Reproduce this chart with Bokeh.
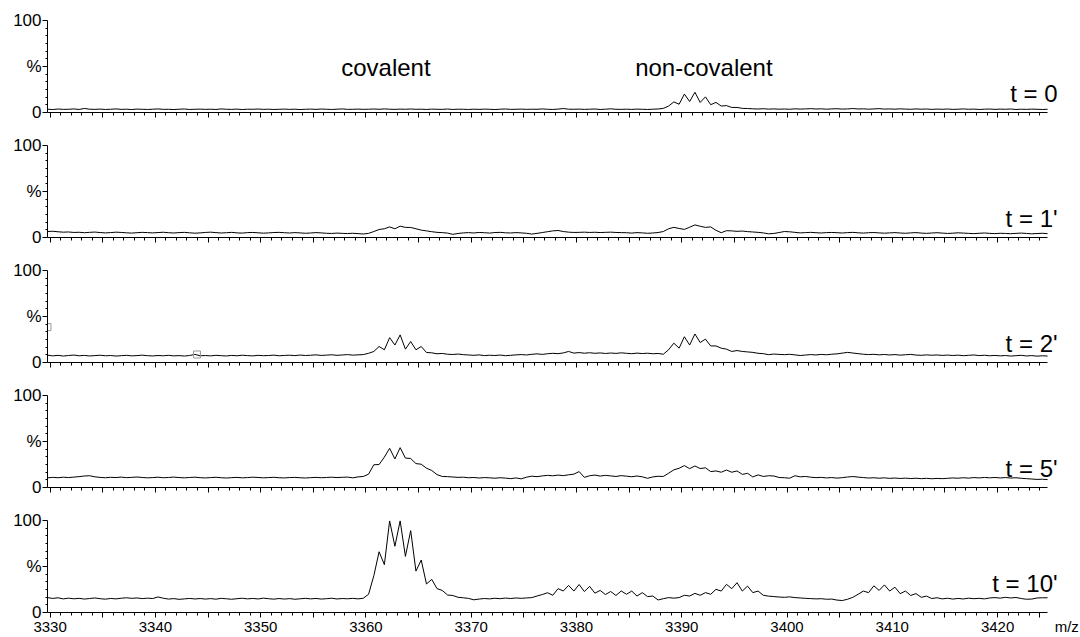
from bokeh.plotting import figure
from bokeh.layouts import column
from bokeh.models import Range1d, FixedTicker, Label
from bokeh.embed import file_html
from bokeh.resources import INLINE

# m/z sampling positions (Da)
mz = [
    3329.75, 3330.25, 3330.75, 3331.25, 3331.75, 3332.25, 3332.75, 3333.25, 3333.75, 3334.25,
    3334.75, 3335.25, 3335.75, 3336.25, 3336.75, 3337.25, 3337.75, 3338.25, 3338.75, 3339.25,
    3339.75, 3340.25, 3340.75, 3341.25, 3341.75, 3342.25, 3342.75, 3343.25, 3343.75, 3344.25,
    3344.75, 3345.25, 3345.75, 3346.25, 3346.75, 3347.25, 3347.75, 3348.25, 3348.75, 3349.25,
    3349.75, 3350.25, 3350.75, 3351.25, 3351.75, 3352.25, 3352.75, 3353.25, 3353.75, 3354.25,
    3354.75, 3355.25, 3355.75, 3356.25, 3356.75, 3357.25, 3357.75, 3358.25, 3358.75, 3359.25,
    3359.75, 3360.25, 3360.75, 3361.25, 3361.75, 3362.25, 3362.75, 3363.25, 3363.75, 3364.25,
    3364.75, 3365.25, 3365.75, 3366.25, 3366.75, 3367.25, 3367.75, 3368.25, 3368.75, 3369.25,
    3369.75, 3370.25, 3370.75, 3371.25, 3371.75, 3372.25, 3372.75, 3373.25, 3373.75, 3374.25,
    3374.75, 3375.25, 3375.75, 3376.25, 3376.75, 3377.25, 3377.75, 3378.25, 3378.75, 3379.25,
    3379.75, 3380.25, 3380.75, 3381.25, 3381.75, 3382.25, 3382.75, 3383.25, 3383.75, 3384.25,
    3384.75, 3385.25, 3385.75, 3386.25, 3386.75, 3387.25, 3387.75, 3388.25, 3388.75, 3389.25,
    3389.75, 3390.25, 3390.75, 3391.25, 3391.75, 3392.25, 3392.75, 3393.25, 3393.75, 3394.25,
    3394.75, 3395.25, 3395.75, 3396.25, 3396.75, 3397.25, 3397.75, 3398.25, 3398.75, 3399.25,
    3399.75, 3400.25, 3400.75, 3401.25, 3401.75, 3402.25, 3402.75, 3403.25, 3403.75, 3404.25,
    3404.75, 3405.25, 3405.75, 3406.25, 3406.75, 3407.25, 3407.75, 3408.25, 3408.75, 3409.25,
    3409.75, 3410.25, 3410.75, 3411.25, 3411.75, 3412.25, 3412.75, 3413.25, 3413.75, 3414.25,
    3414.75, 3415.25, 3415.75, 3416.25, 3416.75, 3417.25, 3417.75, 3418.25, 3418.75, 3419.25,
    3419.75, 3420.25, 3420.75, 3421.25, 3421.75, 3422.25, 3422.75, 3423.25, 3423.75, 3424.25,
    3424.75,
]

# relative intensity (%) for each time point
int_t0 = [
    3.6, 3.2, 3.8, 3.4, 3.5, 3.9, 3.3, 4.4, 3.6, 3.4,
    3.7, 3.3, 3.5, 3.9, 3.4, 3.6, 3.2, 3.7, 3.5, 3.3,
    3.6, 3.9, 3.4, 3.5, 3.2, 3.6, 3.8, 3.3, 3.5, 3.7,
    3.4, 3.6, 3.3, 3.9, 3.5, 3.4, 3.7, 3.2, 3.6, 3.5,
    3.8, 3.4, 3.6, 3.3, 3.5, 3.7, 3.4, 3.6, 3.2, 3.5,
    3.7, 3.4, 3.8, 3.5, 3.3, 3.6, 3.9, 3.4, 3.5, 3.7,
    3.4, 3.6, 3.8, 3.5, 3.9, 3.6, 3.4, 3.7, 3.5, 3.8,
    3.5, 3.6, 3.3, 3.7, 3.5, 3.4, 3.8, 3.3, 3.6, 3.5,
    3.3, 3.6, 3.4, 3.7, 3.5, 3.2, 3.6, 3.8, 3.4, 3.5,
    3.7, 3.4, 3.6, 3.5, 3.9, 3.5, 3.3, 3.7, 4.3, 3.6,
    3.5, 3.7, 3.4, 3.6, 3.8, 3.3, 3.6, 4.0, 3.5, 3.4,
    3.6, 3.4, 3.7, 3.5, 3.3, 3.6, 3.8, 4.5, 7.0, 11.5,
    9.0, 20.0, 12.0, 22.0, 11.0, 17.0, 8.5, 11.0, 7.0, 7.5,
    5.5, 5.5, 4.5, 4.3, 4.0, 3.8, 4.1, 3.7, 3.9, 3.6,
    3.8, 3.5, 4.0, 3.7, 3.9, 4.2, 3.8, 4.0, 3.6, 3.9,
    4.1, 3.7, 3.9, 4.3, 3.8, 4.0, 3.6, 3.9, 4.2, 3.7,
    3.9, 3.6, 4.0, 3.7, 3.5, 3.9, 3.6, 3.8, 3.4, 3.7,
    3.5, 3.8, 3.4, 3.6, 3.9, 3.5, 3.7, 3.3, 3.6, 3.8,
    3.4, 3.7, 3.5, 3.8, 3.3, 3.6, 3.4, 3.7, 3.5, 3.3,
    3.5,
]

int_t1 = [
    6.5, 6.8, 6.2, 5.8, 6.0, 5.5, 5.7, 5.2, 5.6, 5.9,
    5.4, 5.0, 5.3, 5.8, 5.5, 5.1, 4.8, 5.2, 5.6, 5.3,
    5.0, 5.4, 5.7, 5.2, 4.9, 5.3, 5.6, 5.1, 4.7, 5.0,
    5.5, 5.8, 5.3, 4.9, 5.2, 5.6, 5.0, 4.8, 5.3, 5.5,
    5.1, 4.7, 5.0, 5.4, 5.6, 5.2, 4.9, 5.3, 5.0, 4.6,
    4.9, 5.3, 5.0, 4.6, 4.4, 4.8, 4.5, 4.3, 4.6, 4.2,
    3.8, 4.5, 6.5, 8.7, 9.5, 11.5, 9.5, 12.3, 11.0, 10.9,
    9.5, 8.0, 7.2, 6.3, 5.6, 5.3, 4.8, 3.4, 4.4, 5.0,
    5.3, 4.9, 5.5, 5.2, 4.8, 5.4, 5.6, 5.1, 4.9, 5.3,
    5.0, 4.6, 3.7, 4.5, 5.4, 6.3, 7.2, 7.6, 6.5, 5.8,
    5.5, 5.6, 5.8, 5.5, 5.7, 5.4, 5.6, 5.8, 5.5, 5.3,
    5.2, 4.8, 5.3, 5.0, 4.6, 4.9, 5.4, 6.5, 9.5, 11.0,
    9.8, 8.8, 11.2, 13.7, 12.2, 11.0, 11.5, 7.8, 5.2, 7.4,
    7.2, 6.7, 7.0, 6.4, 6.0, 5.6, 5.0, 4.0, 4.4, 5.4,
    6.5, 6.2, 5.6, 5.0, 5.3, 5.6, 5.2, 4.9, 5.3, 5.5,
    5.2, 4.9, 5.3, 5.6, 5.1, 4.8, 5.2, 5.4, 5.0, 4.7,
    5.0, 5.3, 4.9, 4.6, 5.0, 5.3, 4.8, 4.5, 4.9, 5.2,
    4.8, 4.4, 4.7, 5.1, 4.8, 4.5, 4.2, 4.6, 4.9, 4.5,
    4.2, 4.6, 4.4, 4.1, 4.5, 4.8, 4.4, 4.0, 4.3, 4.6,
    4.2,
]

int_t2 = [
    8.0, 7.2, 7.8, 7.0, 7.6, 8.1, 7.3, 7.7, 7.1, 7.5,
    7.9, 7.3, 7.6, 7.0, 7.4, 7.8, 7.2, 7.5, 8.0, 7.4,
    7.1, 7.6, 7.3, 7.8, 7.2, 7.5, 7.0, 7.6, 8.8, 7.3,
    7.6, 7.2, 7.8, 7.4, 7.1, 7.7, 7.3, 7.9, 7.5, 7.2,
    7.8, 7.4, 7.6, 8.0, 7.3, 7.7, 7.9, 7.5, 8.1, 7.6,
    7.9, 8.3, 7.7, 8.0, 8.4, 7.8, 8.2, 8.6, 8.0, 8.3,
    8.6, 10.0, 12.0, 17.4, 13.8, 27.0, 19.0, 30.0, 14.5, 22.8,
    13.8, 17.4, 10.9, 10.5, 9.5, 9.8, 9.0, 8.7, 9.2, 8.5,
    8.2, 7.8, 8.3, 7.5, 7.9, 7.6, 8.1, 7.4, 7.8, 8.3,
    8.6, 8.2, 8.9, 9.4, 8.8, 9.5, 10.0, 9.6, 10.4, 12.0,
    10.2, 10.8, 10.1, 10.6, 10.0, 10.4, 9.8, 10.3, 9.9, 10.5,
    10.0, 9.6, 10.2, 9.7, 10.1, 9.5, 9.8, 9.0, 13.8, 21.0,
    15.6, 28.0, 19.0, 31.0, 21.7, 25.4, 18.0, 18.0, 15.6, 14.5,
    12.0, 13.0, 12.0, 11.5, 11.0, 10.0, 9.6, 8.5, 9.2, 8.8,
    8.5, 8.9, 8.3, 7.6, 8.1, 8.6, 8.2, 8.8, 8.4, 9.0,
    9.4, 10.2, 11.0, 10.3, 9.6, 9.0, 8.6, 8.9, 8.3, 8.7,
    8.2, 8.6, 8.0, 8.4, 8.8, 8.1, 7.8, 8.3, 7.9, 8.2,
    7.7, 8.1, 7.6, 8.0, 7.4, 7.8, 8.2, 7.5, 7.9, 7.3,
    7.7, 7.2, 7.6, 7.0, 7.4, 7.8, 7.1, 7.5, 6.9, 7.3,
    7.0,
]

int_t5 = [
    10.5, 11.0, 10.6, 11.2, 10.8, 11.3, 11.8, 12.5, 12.8, 11.6,
    11.0, 10.6, 11.1, 10.8, 11.3, 10.7, 11.0, 11.4, 10.9, 10.5,
    10.8, 11.2, 10.6, 10.9, 11.3, 10.8, 10.5, 10.9, 11.2, 10.7,
    10.4, 10.8, 11.1, 10.6, 10.3, 10.7, 11.0, 10.5, 10.8, 11.2,
    10.9, 10.5, 10.8, 11.1, 10.6, 10.4, 10.8, 11.0, 10.6, 10.3,
    10.7, 11.0, 10.6, 10.9, 11.2, 10.8, 11.1, 11.3, 10.5, 11.5,
    12.0, 14.5, 24.7, 25.0, 33.0, 42.6, 31.0, 43.3, 32.0, 31.5,
    26.0, 25.3, 21.0, 18.5, 14.0, 12.0, 11.8, 11.4, 11.0, 11.2,
    10.6, 10.9, 10.3, 10.8, 10.5, 10.1, 10.6, 10.2, 9.6, 10.4,
    9.4, 11.2, 12.3, 11.8, 12.6, 13.2, 12.7, 13.5, 12.9, 13.8,
    14.5, 17.3, 11.0, 12.8, 13.5, 12.4, 13.2, 12.6, 12.0, 12.9,
    12.3, 11.7, 12.5, 11.6, 10.0, 11.5, 12.2, 12.0, 15.5, 19.2,
    20.9, 23.8, 20.5, 23.4, 20.6, 21.4, 17.3, 18.0, 16.6, 19.0,
    16.6, 18.0, 14.3, 15.4, 11.5, 13.7, 12.0, 12.8, 12.5, 10.9,
    10.6, 10.1, 12.8, 11.6, 12.0, 11.2, 10.7, 11.0, 10.4, 10.8,
    10.2, 10.7, 11.4, 11.9, 11.3, 10.8, 10.3, 10.6, 10.1, 10.5,
    9.9, 10.3, 9.8, 10.2, 9.7, 10.1, 9.6, 10.0, 9.5, 9.9,
    9.6, 10.0, 10.4, 10.1, 10.6, 10.2, 10.8, 10.4, 10.9, 10.5,
    10.9, 10.4, 10.8, 10.3, 10.6, 10.0, 9.6, 9.2, 8.8, 9.0,
    8.6,
]

int_t10 = [
    16.2, 15.3, 16.0, 14.8, 15.6, 14.9, 15.4, 14.6, 15.2, 15.8,
    15.0, 14.5, 15.3, 14.8, 15.5, 16.0, 15.4, 15.8, 15.1, 15.6,
    15.2, 16.9, 15.5, 14.6, 15.1, 14.3, 14.8, 15.3, 14.7, 15.2,
    14.6, 15.1, 14.5, 15.4, 14.9, 14.4, 15.0, 15.5, 14.8, 15.3,
    14.7, 15.6, 15.0, 14.5, 15.2, 14.6, 15.1, 14.4, 14.9, 15.4,
    14.8, 15.3, 14.6, 15.0, 15.5, 14.7, 15.2, 14.9, 15.4, 14.8,
    15.5, 19.8, 40.0, 66.0, 52.0, 99.6, 72.0, 99.6, 61.0, 89.0,
    45.0, 57.0, 31.0, 36.0, 26.0, 24.0, 19.0, 18.5, 16.5, 16.0,
    15.3, 13.8, 14.6, 15.2, 14.8, 15.5, 15.0, 15.7, 15.2, 15.8,
    15.4, 15.8, 16.2, 17.9, 19.5, 21.5, 18.7, 25.9, 23.4, 29.5,
    23.3, 30.4, 22.8, 28.4, 21.0, 24.0, 19.5, 22.8, 18.5, 23.4,
    19.8, 23.3, 17.9, 21.6, 17.3, 17.9, 13.6, 15.0, 16.2, 15.6,
    16.2, 18.7, 17.9, 20.8, 18.7, 21.6, 19.8, 25.2, 23.3, 30.6,
    25.9, 32.4, 23.3, 28.7, 21.6, 23.3, 18.7, 17.8, 17.3, 16.8,
    16.5, 17.0, 16.2, 15.8, 15.4, 15.1, 14.8, 15.0, 14.4, 14.6,
    13.5, 13.0, 14.4, 16.5, 19.8, 23.3, 21.6, 29.0, 24.0, 30.0,
    23.3, 27.5, 20.5, 23.3, 18.5, 20.5, 16.5, 17.8, 15.2, 16.0,
    14.8, 15.5, 14.6, 15.3, 14.7, 15.6, 15.0, 15.4, 14.8, 15.8,
    16.2, 15.6, 16.5, 15.8, 16.3, 15.2, 14.4, 14.6, 15.8, 16.0,
    16.0,
]

time_labels = ["t = 0", "t = 1'", "t = 2'", "t = 5'", "t = 10'"]
series = [int_t0, int_t1, int_t2, int_t5, int_t10]

# small grey instrument markers seen in the t = 2' trace
marker_mz = [3329.75, 3343.95]
marker_int = [38.5, 8.7]

# x tick positions and labels
x_major = [3330, 3335, 3340, 3345, 3350, 3355, 3360, 3365, 3370, 3375,
           3380, 3385, 3390, 3395, 3400, 3405, 3410, 3415, 3420]
x_labels = {t: (str(t) if t % 10 == 0 else "") for t in x_major}
x_blank = {t: "" for t in x_major}
UNIT_TICK = 3424                      # the axis unit is written at the axis end
unit_text = "\u00a0" * 13 + "m/z"     # pad so the unit sits right of the axis end

for s in series:
    if len(s) != len(mz):
        raise ValueError("length mismatch %d vs %d" % (len(s), len(mz)))

FONT = "Liberation Sans"
X0, X1 = 3329.75, 3424.75            # extent of the m/z axis
PX_X = 10.527                         # pixels per m/z unit
LEFT, TOP, FRAME_H = 47, 20, 92
XR = X0 + (1080 - LEFT) / PX_X        # frame reaches the right edge of the page

figs = []
for k, (lab, vals) in enumerate(zip(time_labels, series)):
    last = (k == len(series) - 1)
    h = 137 if last else 125
    p = figure(width=1080, height=h,
               x_range=Range1d(X0, XR), y_range=Range1d(0, 100),
               output_backend="svg", toolbar_location=None,
               min_border_left=LEFT, min_border_right=0,
               min_border_top=TOP, min_border_bottom=h - TOP - FRAME_H)
    p.outline_line_color = None
    p.background_fill_color = "white"
    p.border_fill_color = "white"
    p.xgrid.visible = False
    p.ygrid.visible = False

    # y axis
    ya = p.yaxis[0]
    ya.ticker = FixedTicker(ticks=[0, 50, 100],
                            minor_ticks=[50.0 * j / 6 for j in range(13) if j % 6])
    ya.major_label_overrides = {0: "0", 50: "%", 100: "100"}
    ya.major_tick_in = 0
    ya.major_tick_out = 5
    ya.minor_tick_in = 0
    ya.minor_tick_out = 2
    ya.major_label_standoff = 1
    ya.major_label_text_font = FONT
    ya.major_label_text_font_size = "17px"
    ya.major_label_text_color = "black"
    ya.axis_line_color = "black"
    ya.major_tick_line_color = "black"
    ya.minor_tick_line_color = "black"

    # x axis
    xa = p.xaxis[0]
    xa.bounds = (X0, X1)
    xa.major_tick_in = 0
    xa.major_tick_out = 5
    xa.minor_tick_in = 0
    xa.minor_tick_out = 3
    xa.axis_line_color = "black"
    xa.major_tick_line_color = "black"
    xa.minor_tick_line_color = "black"
    xa.major_label_text_font = FONT
    xa.major_label_text_color = "black"
    xa.major_label_text_font_size = "15px"
    xa.major_label_standoff = 0
    if last:
        xa.ticker = FixedTicker(ticks=x_major + [UNIT_TICK],
                                minor_ticks=list(range(3330, 3425)))
        labels = dict(x_labels)
        labels[UNIT_TICK] = unit_text
        xa.major_label_overrides = labels
    else:
        xa.ticker = FixedTicker(ticks=x_major, minor_ticks=list(range(3330, 3425)))
        xa.major_label_overrides = x_blank

    p.line(mz, vals, line_color="black", line_width=1)

    if k == 2:
        p.scatter(marker_mz, marker_int, marker="square", size=7,
                  fill_color=None, line_color="#999999", line_width=1)

    p.add_layout(Label(x=3425.7, y=(31 if last else 21), text=lab,
                       text_align="right", text_baseline="alphabetic",
                       text_font=FONT, text_font_size="24px", text_color="black"))
    if k == 0:
        p.add_layout(Label(x=3361.9, y=49, text="covalent", text_align="center",
                           text_baseline="alphabetic", text_font=FONT,
                           text_font_size="24px", text_color="black"))
        p.add_layout(Label(x=3392.1, y=49, text="non-covalent", text_align="center",
                           text_baseline="alphabetic", text_font=FONT,
                           text_font_size="24px", text_color="black"))
    figs.append(p)

layout = column(*figs, spacing=0)
open("out.html", "w").write(file_html(layout, INLINE))
